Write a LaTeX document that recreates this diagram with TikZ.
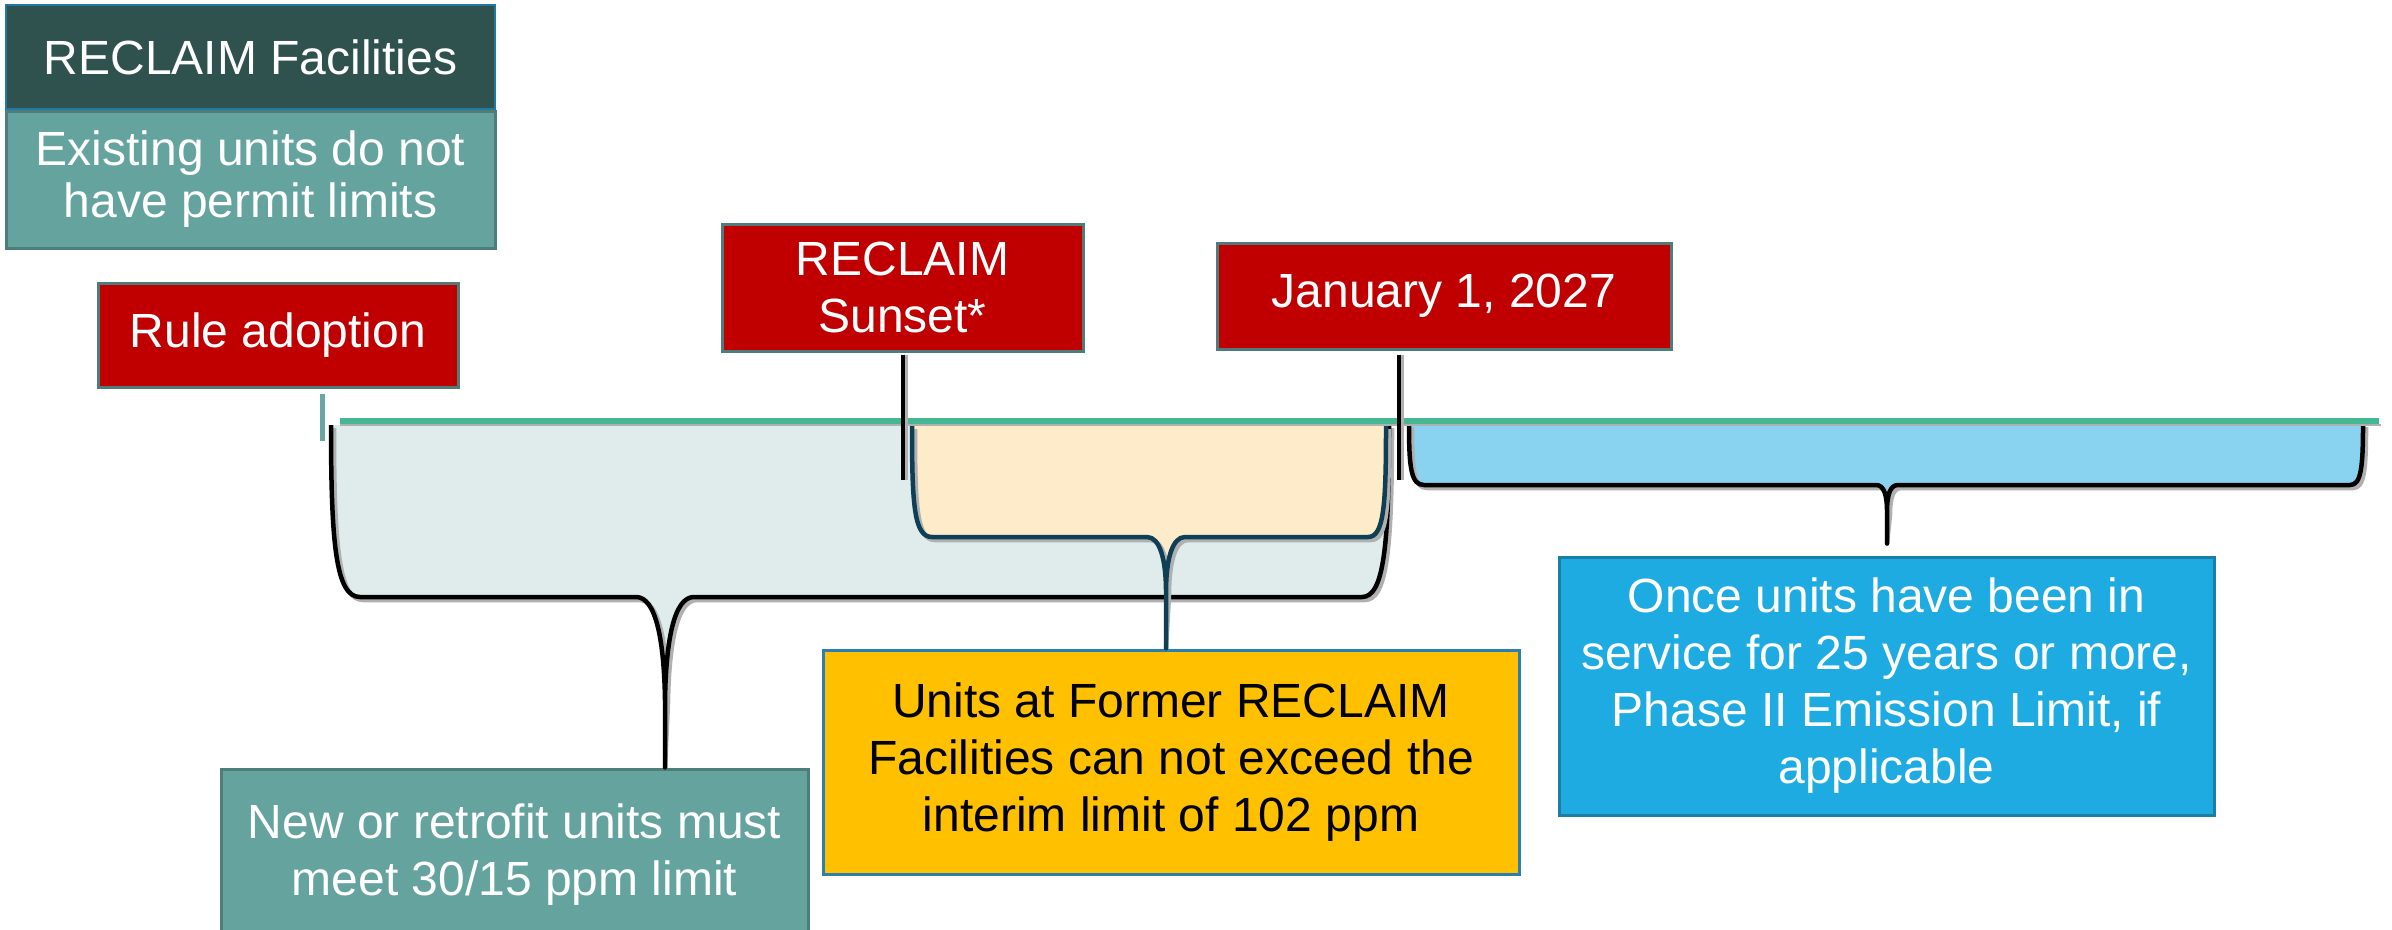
\documentclass[tikz,border=0pt]{standalone}
\usepackage{fontspec}
\setmainfont{Liberation Sans}
\usetikzlibrary{calc}
\definecolor{hdr}{HTML}{2F524F}
\definecolor{hdredge}{HTML}{1F79A5}
\definecolor{tealbox}{HTML}{64A39E}
\definecolor{tealedge}{HTML}{4E7E7A}
\definecolor{redbox}{HTML}{C00000}
\definecolor{rededge}{HTML}{4F7B78}
\definecolor{yel}{HTML}{FFC000}
\definecolor{yeledge}{HTML}{2A7FB0}
\definecolor{blu}{HTML}{1EABE2}
\definecolor{bluedge}{HTML}{1A7EA6}
\definecolor{tline}{HTML}{45B893}
\definecolor{bigfill}{HTML}{E0ECEC}
\definecolor{yfill}{HTML}{FDEBC9}
\definecolor{bfill}{HTML}{89D3F1}
\definecolor{navy}{HTML}{0E3F56}
\definecolor{ticktl}{HTML}{68A7A3}
\definecolor{shadowgray}{HTML}{B0B0B0}
\newcommand\bigbrk[1]{\path[#1] (331,425) .. controls (331,545) and (336,597) .. (360,597) -- (636,597) .. controls (656,597) and (664,640) .. (665,700) -- (tipA |- green.north) -- (665,700) .. controls (666,640) and (674,597) .. (694,597) -- (1362,597) .. controls (1384,597) and (1389,545) .. (1389,425);}
\newcommand\ylwbrk[1]{\path[#1] (912,426) .. controls (912,505) and (914,537) .. (932,537) -- (1147,537) .. controls (1160,537) and (1166,560) .. (1166,592) -- (tipB |- yelbox.north) -- (1166,592) .. controls (1166,560) and (1172,537) .. (1185,537) -- (1368,537) .. controls (1384,537) and (1386,505) .. (1386,426);}
\newcommand\blubrk[1]{\path[#1] (1409,424) .. controls (1409,468) and (1411,485) .. (1424,485) -- (1876,485) .. controls (1884,485) and (1887,495) .. (1887,512) -- ([yshift=12pt]blubox.north -| tipC) -- (1887,512) .. controls (1887,495) and (1890,485) .. (1898,485) -- (2350,485) .. controls (2361,485) and (2363,468) .. (2363,424);}
\begin{document}
\begin{tikzpicture}[x=1pt,y=-1pt,
  txt/.style={font=\fontsize{48}{57}\selectfont, align=center, inner sep=0pt},
  redst/.style={txt, fill=redbox, draw=rededge, line width=3pt, text=white},
  brk/.style={line width=4.5pt, line join=round},
  shd/.style={draw=shadowgray, line width=4.5pt, line join=round, shift={(3,3)}},
  tickst/.style={line width=4pt}]
\useasboundingbox (0,0) rectangle (2392,929);

% boxes
\node[txt, fill=hdr, draw=hdredge, line width=2pt, text=white,
      minimum width=489pt, minimum height=104pt] (hdrbox) at (250.5,57) {RECLAIM Facilities};
\node[txt, font=\fontsize{48}{52}\selectfont, fill=tealbox, draw=tealedge, line width=3pt, text=white,
      minimum width=489pt, minimum height=137pt] (existing) at (250.5,179.5) {Existing units do not\\have permit limits};
\node[redst, minimum width=360pt, minimum height=104pt] (rule) at (278,335) {Rule adoption};
\node[redst, minimum width=361pt, minimum height=127pt] (sunset) at (902.5,287.5) {RECLAIM\\Sunset*};
\node[redst, minimum width=454pt, minimum height=106pt] (jan) at (1444,296) {January 1, 2027};
\node[txt, fill=tealbox, draw=tealedge, line width=3pt, text=white,
      minimum width=587pt, minimum height=172pt] (green) at (514.5,855) {New or retrofit units must\\meet 30/15 ppm limit};
\node[txt, fill=yel, draw=yeledge, line width=3pt, text=black,
      minimum width=696pt, minimum height=224pt] (yelbox) at (1171,762) {Units at Former RECLAIM\\Facilities can not exceed the\\interim limit of 102 ppm};
\node[txt, fill=blu, draw=bluedge, line width=3pt, text=white,
      minimum width=655pt, minimum height=258pt] (blubox) at (1886.5,686) {Once units have been in\\service for 25 years or more,\\Phase II Emission Limit, if\\applicable};

\coordinate (tipA) at (665,700);
\coordinate (tipB) at (1166,592);
\coordinate (tipC) at (1887,512);
\coordinate (rulex) at (322,0);
\coordinate (janx) at (1399,0);

% brackets
\bigbrk{fill=bigfill}
\bigbrk{shd}
\bigbrk{draw=black, brk}
\ylwbrk{fill=yfill}
\ylwbrk{shd}
\ylwbrk{draw=navy, brk}
\blubrk{fill=bfill}
\blubrk{shd}
\blubrk{draw=black, brk}

% timeline
\draw[line width=2pt, shadowgray] (340,425) -- (2381,425);
\draw[line width=5.5pt, tline] (340,421) -- (2379,421);

% ticks
\draw[line width=5pt, ticktl] ([yshift=-5pt]rule.south -| rulex) -- ++(0,47);
\draw[tickst, shadowgray] ([xshift=3pt,yshift=-2pt]sunset.south) -- ++(0,125);
\draw[tickst] ([yshift=-2pt]sunset.south) -- ++(0,125);
\draw[tickst, shadowgray] ([xshift=3pt,yshift=-4pt]jan.south -| janx) -- ++(0,125);
\draw[tickst] ([yshift=-4pt]jan.south -| janx) -- ++(0,125);
\end{tikzpicture}
\end{document}
